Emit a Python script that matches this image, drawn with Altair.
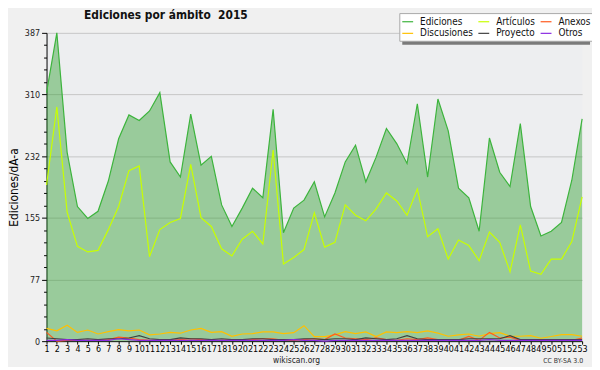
import altair as alt
import pandas as pd

weeks = list(range(1, 54))
series_names = ["Ediciones", "Artículos", "Anexos", "Discusiones", "Proyecto", "Otros"]
series_colors = ["#3cb43c", "#c8ff00", "#ff5a1e", "#ffc000", "#404040", "#8a2be2"]
# legend fills column by column (2 rows): this order gives rows
# Ediciones / Artículos / Anexos  and  Discusiones / Proyecto / Otros
legend_order = ["Ediciones", "Discusiones", "Artículos", "Proyecto", "Anexos", "Otros"]

ediciones = [312, 387, 237, 169, 154, 163, 201, 254, 284, 277,
             289, 312, 225, 206, 285, 221, 232, 171, 144, 167,
             192, 180, 291, 136, 167, 177, 200, 156, 186, 225,
             246, 200, 231, 267, 248, 223, 298, 206, 304, 264,
             192, 180, 138, 255, 212, 194, 273, 169, 132, 138,
             149, 202, 279]
articulos = [196, 294, 162, 119, 112, 114, 140, 169, 214, 220,
             106, 140, 149, 154, 222, 155, 144, 116, 107, 128,
             138, 122, 240, 97, 105, 115, 161, 118, 124, 171,
             158, 151, 166, 186, 176, 158, 191, 131, 141, 103,
             127, 120, 101, 137, 124, 87, 146, 88, 84, 103,
             103, 125, 181]
anexos = [11, 0, 1, 1, 1, 1, 2, 5, 4, 2,
          1, 1, 1, 2, 3, 2, 1, 1, 2, 1,
          2, 3, 3, 1, 1, 2, 3, 2, 9, 4,
          3, 2, 4, 2, 1, 3, 2, 4, 2, 1,
          1, 6, 1, 11, 4, 5, 1, 1, 1, 1,
          1, 1, 4]
discusiones = [16, 13, 20, 11, 14, 9, 12, 14.5, 13, 14,
               8, 9, 11, 10, 14, 16, 11, 12, 6, 9,
               9.5, 11.6, 11.6, 9.5, 10.7, 19.4, 5.8, 5.8, 7.9, 12,
               9.5, 11.6, 5.8, 11.6, 10.7, 12, 10.7, 12.8, 10, 6.2,
               7.9, 9, 6.2, 9.5, 10.7, 6.2, 6.2, 7, 3.7, 5.8,
               8.3, 8.3, 6.2]
proyecto = [4, 3, 2, 2, 3, 2, 3, 3, 4, 7,
            3, 2, 2, 4, 3, 3, 2, 3, 2, 2,
            3, 3, 2, 2, 2, 3, 3, 2, 3, 3,
            2, 4, 3, 2, 3, 7, 3, 2, 2, 2,
            2, 3, 3, 3, 3, 7, 2, 2, 2, 2,
            2, 2, 2]
otros = [1, 1, 2, 1, 1, 1, 1, 3, 2, 1,
         1, 1, 1, 1, 1, 1, 1, 1, 1, 1,
         1, 1, 1, 1, 2, 1, 1, 0, 1, 1,
         1, 1, 1, 1, 1, 1, 1, 1, 1, 1,
         1, 1, 1, 2, 1, 1, 1, 1, 1, 1,
         1, 1, 1]

y_max = 387
y_minor = [round(i * y_max / 25, 3) for i in range(26)]

title_text = "Ediciones por ámbito\u00a0 2015"
y_title = "Ediciones/dÃ-a"
credit_left = "wikiscan.org"
credit_right = "CC BY-SA 3.0"

all_series = [ediciones, articulos, anexos, discusiones, proyecto, otros]
draw_order = ["Artículos", "Discusiones", "Anexos", "Proyecto", "Otros", "Ediciones"]
rows = []
for name in draw_order:
    vals = all_series[series_names.index(name)]
    for w, v in zip(weeks, vals):
        rows.append({"semana": w, "serie": name, "valor": v, "orden": draw_order.index(name)})
df = pd.DataFrame(rows)
df_area = pd.DataFrame({"semana": weeks, "valor": ediciones})
one = pd.DataFrame({"a": [credit_left], "b": [credit_right]})

FONT = "DejaVu Sans Condensed, DejaVu Sans"
major_test = "abs(datum.value / 77.4 - round(datum.value / 77.4)) < 0.01"

xscale = alt.Scale(domain=[1, 53], nice=False)
yscale = alt.Scale(domain=[0, y_max], nice=False)

x_axis = alt.Axis(values=weeks, format="d", labelAngle=0, labelOverlap=False,
                  labelFontSize=9, labelPadding=0, tickSize=3, grid=False,
                  domainColor="#000000", tickColor="#000000", labelColor="#000000",
                  labelFont=FONT, labelFlush=False, title=None)
y_axis = alt.Axis(values=y_minor, labelOverlap=False,
                  labelExpr=f"({major_test}) ? format(round(datum.value), 'd') : ''",
                  gridOpacity={"condition": {"test": f"({major_test}) && datum.value > 0", "value": 1}, "value": 0},
                  tickSize={"condition": {"test": major_test, "value": 5}, "value": 3},
                  gridColor="#c6c6c6", gridWidth=1,
                  domainColor="#000000", tickColor="#000000", labelColor="#222222",
                  labelFont=FONT, labelFontSize=9, labelPadding=2,
                  title=y_title, titleFont=FONT, titleFontSize=12, titleFontWeight="normal",
                  titleColor="#000000", titleX=-33, titleY=156, titleAngle=-90,
                  titleAlign="center", titleBaseline="middle")

X = alt.X("semana:Q", scale=xscale, axis=x_axis)
Y = alt.Y("valor:Q", scale=yscale, axis=y_axis)

area = alt.Chart(df_area).mark_area(color="#32a032", opacity=0.45).encode(x=X, y=Y)

lines = alt.Chart(df).mark_line(strokeWidth=1.2).encode(
    x=X, y=Y,
    color=alt.Color("serie:N",
                    scale=alt.Scale(domain=legend_order,
                                    range=[series_colors[series_names.index(n)] for n in legend_order]),
                    legend=alt.Legend(orient="none", legendX=357, legendY=-20, columns=3,
                                      symbolType="stroke", symbolSize=121, symbolStrokeWidth=1.2,
                                      labelFont=FONT, labelFontSize=10, labelColor="#111111",
                                      labelOffset=6, columnPadding=2, rowPadding=0,
                                      padding=2, fillColor="#ffffff", strokeColor="#a8a8a8",
                                      title=None)),
    detail="orden:N",
    order=alt.Order("semana:Q"),
)

shadow = alt.Chart(one).mark_rect(color="#7a7a7a").encode(
    x=alt.value(360), x2=alt.value(550), y=alt.value(-17), y2=alt.value(12)
)

credit1 = alt.Chart(one).mark_text(font=FONT, fontSize=8.5, color="#222222",
                                   align="center", baseline="middle").encode(
    text="a:N", x=alt.value(253), y=alt.value(331)
)
credit2 = alt.Chart(one).mark_text(font=FONT, fontSize=7, color="#333333",
                                   align="right", baseline="middle").encode(
    text="b:N", x=alt.value(543), y=alt.value(332)
)

chart = alt.layer(area, lines, shadow, credit1, credit2).properties(
    width=542, height=312,
    padding={"left": 39, "top": 23, "right": 10, "bottom": 24},
    autosize=alt.AutoSizeParams(type="none"),
    title=alt.TitleParams(title_text, anchor="start", frame="group", dx=38, dy=17, offset=8, font=FONT,
                          fontSize=12, fontWeight="bold", color="#111111"),
    background="#f0f0f0",
).configure_view(fill="#edeef0", stroke=None)

chart.save("out.html", embed_options={"renderer": "svg", "actions": False})
